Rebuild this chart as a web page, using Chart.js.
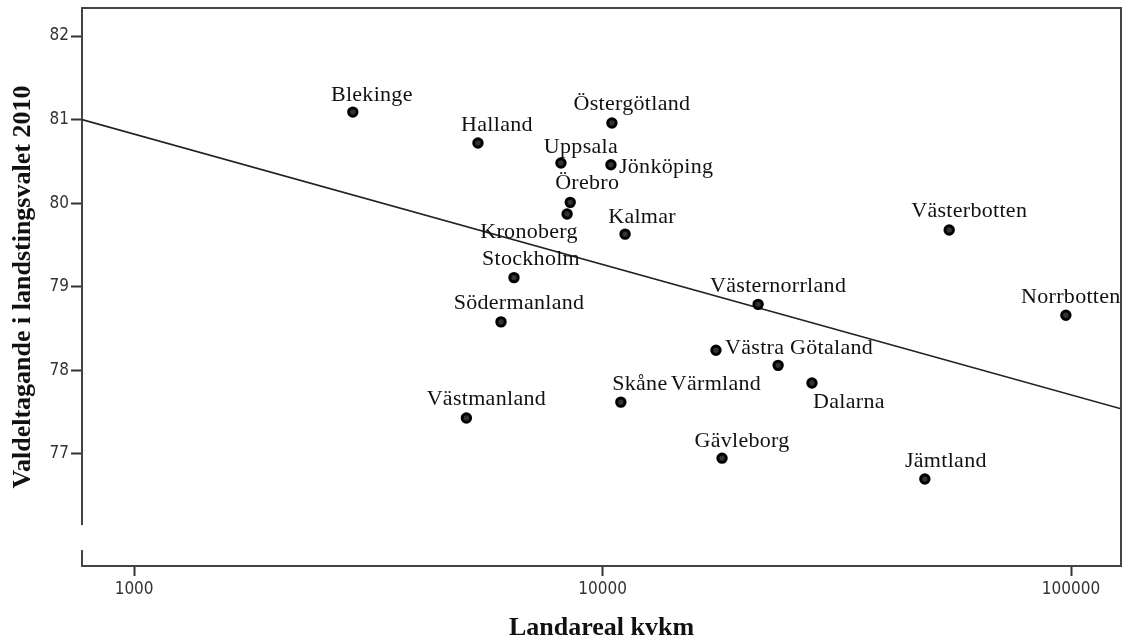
<!DOCTYPE html>
<html>
<head>
<meta charset="utf-8">
<title>Landareal och valdeltagande</title>
<script src="https://cdn.jsdelivr.net/npm/chart.js@4/dist/chart.umd.min.js"></script>
<style>
    body { margin: 0; background: #fff; }
    #chart { display: block; }
</style>
</head>
<body>
<canvas id="chart" width="1125" height="639"></canvas>
<script>
    "use strict";

    // Data
    var counties = ["Blekinge", "Halland", "Östergötland", "Uppsala", "Jönköping", "Örebro",
        "Kronoberg", "Kalmar", "Stockholm", "Södermanland", "Västmanland", "Skåne", "Värmland",
        "Västernorrland", "Västra Götaland", "Dalarna", "Gävleborg", "Västerbotten", "Norrbotten", "Jämtland"];
    var landArea = [2930, 5420, 10470, 8150, 10420, 8530,
        8400, 11170, 6470, 6070, 5120, 10940, 17460,
        21480, 23700, 27990, 17990, 54950, 97500, 48750];
    var turnout = [81.09, 80.72, 80.96, 80.48, 80.46, 80.01,
        79.87, 79.63, 79.11, 78.58, 77.43, 77.62, 78.24,
        78.79, 78.06, 77.85, 76.95, 79.68, 78.66, 76.70];

    // Fit line ends (at the axis limits)
    var fitX = [774, 127850];
    var fitY = [81.0, 77.54];

    var xTicks = [1000, 10000, 100000];
    var yTicks = [77, 78, 79, 80, 81, 82];
    var xRange = [774, 127850];
    var yRange = [75.66, 82.335];
    var yBreakAt = 76;

    // Label placement: [dx, dy, align] from each point, same order as counties
    var labelPlace = [
        [19, -17, "center"], [19, -18, "center"], [20, -19, "center"], [20, -16, "center"],
        [8, 2, "left"], [17, -19, "center"], [-38, 18, "center"], [17, -17, "center"],
        [17, -18, "center"], [18, -19, "center"], [20, -19, "center"], [19, -18, "center"],
        [0, 34, "center"], [20, -18, "center"], [21, -17, "center"], [37, 19, "center"],
        [20, -17, "center"], [20, -19, "center"], [5, -18, "center"], [21, -18, "center"]
    ];

    var labelFont = "22px 'Liberation Serif', 'Times New Roman', serif";
    var tickFont = { family: "'DejaVu Sans Condensed', 'DejaVu Sans', sans-serif", size: 17 };
    var titleFont = { family: "'Liberation Serif', 'Times New Roman', serif", size: 26, weight: "bold", lineHeight: 0.8 };

    var points = landArea.map(function (v, i) {
        return { x: v, y: turnout[i] };
    });
    var fitLine = fitX.map(function (v, i) {
        return { x: v, y: fitY[i] };
    });

    // no automatic padding round the axes
    var noPad = function (scale) {
        scale.paddingTop = 0;
        scale.paddingBottom = 0;
        scale.paddingLeft = 0;
        scale.paddingRight = 0;
    };

    // Point labels
    var pointLabels = {
        id: "pointLabels",
        afterDatasetsDraw: function (chart) {
            var ctx = chart.ctx;
            var meta = chart.getDatasetMeta(0);
            ctx.save();
            ctx.font = labelFont;
            ctx.letterSpacing = "0.3px";
            ctx.fillStyle = "#111";
            ctx.textBaseline = "middle";
            meta.data.forEach(function (el, i) {
                var p = labelPlace[i];
                ctx.textAlign = p[2];
                ctx.fillText(counties[i], el.x + p[0], el.y + p[1]);
            });
            ctx.restore();
        }
    };

    // Top/right frame and the break in the y axis
    var frame = {
        id: "frame",
        afterDraw: function (chart) {
            var ctx = chart.ctx;
            var a = chart.chartArea;
            var yb = chart.scales.y.getPixelForValue(yBreakAt);
            ctx.save();
            ctx.strokeStyle = "#444";
            ctx.lineWidth = 2;
            ctx.beginPath();
            ctx.moveTo(a.left, a.top);
            ctx.lineTo(a.right, a.top);
            ctx.lineTo(a.right, a.bottom);
            ctx.stroke();
            ctx.fillStyle = "#fff";
            ctx.fillRect(a.left - 45, yb - 12.5, 47, 25);
            ctx.restore();
        }
    };

    var ctx1 = document.getElementById("chart").getContext("2d");
    var myChart1 = new Chart(ctx1, {
        type: "scatter",
        data: {
            datasets: [{
                data: points,
                pointRadius: 4.2,
                pointBorderWidth: 3,
                backgroundColor: "#333",
                borderColor: "#000"
            },
            {
                data: fitLine,
                showLine: true,
                pointRadius: 0,
                borderColor: "#222",
                borderWidth: 1.6
            }]
        },
        options: {
            responsive: false,
            animation: false,
            layout: { autoPadding: false, padding: { top: 8, right: 4, left: 0, bottom: 0 } },
            plugins: {
                legend: { display: false },
                tooltip: { enabled: false }
            },
            scales: {
                x: {
                    type: "logarithmic",
                    min: xRange[0],
                    max: xRange[1],
                    afterBuildTicks: function (scale) {
                        scale.ticks = xTicks.map(function (v) { return { value: v }; });
                    },
                    afterFit: function (scale) { scale.height = 73; noPad(scale); },
                    ticks: {
                        font: tickFont,
                        color: "#333",
                        padding: 3,
                        maxRotation: 0,
                        callback: function (v) { return String(v); }
                    },
                    grid: { drawOnChartArea: false, tickLength: 10, tickColor: "#333", tickWidth: 2 },
                    border: { color: "#444", width: 2 },
                    title: { display: true, text: "Landareal kvkm", font: titleFont, color: "#111", padding: { top: 0, bottom: 0 } }
                },
                y: {
                    min: yRange[0],
                    max: yRange[1],
                    afterBuildTicks: function (scale) {
                        scale.ticks = yTicks.map(function (v) { return { value: v }; });
                    },
                    afterFit: function (scale) { scale.width = 82; noPad(scale); },
                    ticks: { font: tickFont, color: "#333", padding: 2 },
                    grid: { drawOnChartArea: false, tickLength: 11, tickColor: "#333", tickWidth: 2 },
                    border: { color: "#444", width: 2 },
                    title: { display: true, text: "Valdeltagande i landstingsvalet 2010", font: titleFont, color: "#111", padding: { top: 13, bottom: 0 } }
                }
            }
        },
        plugins: [pointLabels, frame]
    });
</script>
</body>
</html>
